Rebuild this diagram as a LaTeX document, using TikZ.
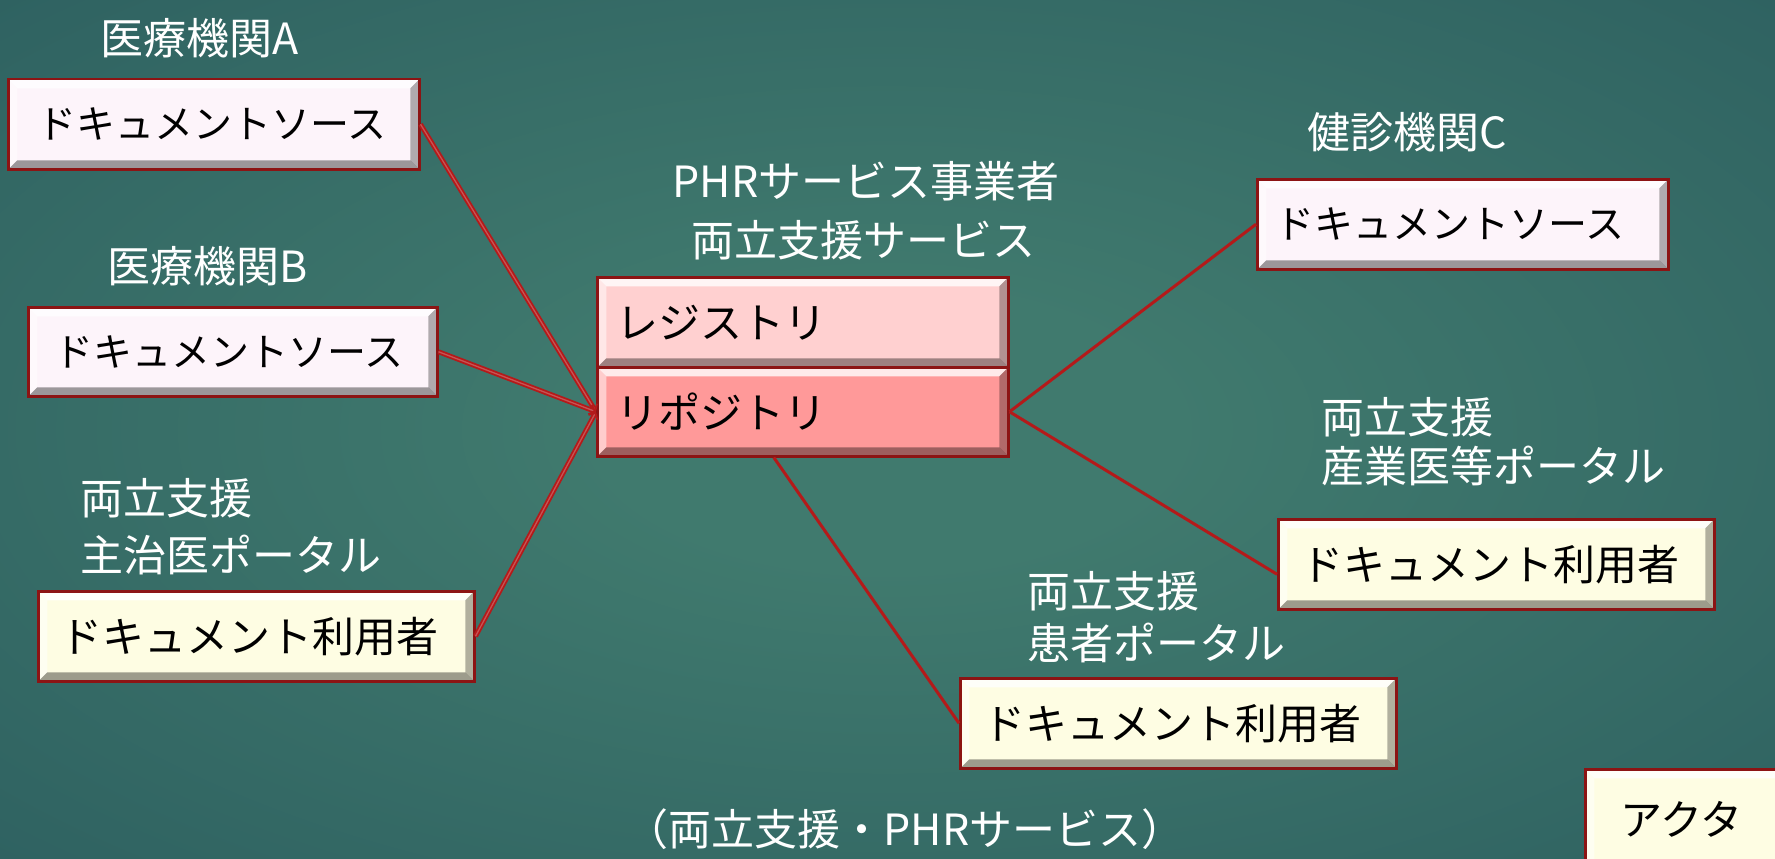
\documentclass[tikz,border=0pt]{standalone}
\usepackage{fontspec}
\setmainfont{Noto Sans CJK JP}
\usetikzlibrary{calc,arrows.meta}
\definecolor{bgc}{RGB}{64,122,110}
\definecolor{bge}{RGB}{24,66,80}
\definecolor{srcfill}{HTML}{FDF4FA}
\definecolor{userfill}{HTML}{FEFDE3}
\definecolor{regfill}{HTML}{FFD0D0}
\definecolor{repfill}{HTML}{FF9999}
\definecolor{bordr}{HTML}{8C1414}
\definecolor{linkc}{HTML}{B41A1A}
\pgfdeclareradialshading{bgshade}{\pgfpoint{0bp}{0bp}}{color(0bp)=(bgc); color(8bp)=(bgc); color(72bp)=(bge)}
\tikzset{
  bevel/.style={path picture={
    \path (path picture bounding box.south west) coordinate (pa)
          (path picture bounding box.north east) coordinate (pb);
    \fill[white,opacity=.8] (pa|-pb) -- (pb) -- ($(pb)+(-9pt,-9pt)$) -- ($(pa|-pb)+(9pt,-9pt)$) -- cycle;
    \fill[white,opacity=.5] (pa|-pb) -- (pa) -- ($(pa)+(9pt,9pt)$) -- ($(pa|-pb)+(9pt,-9pt)$) -- cycle;
    \fill[black,opacity=.38] (pa) -- (pb|-pa) -- ($(pb|-pa)+(-9pt,9pt)$) -- ($(pa)+(9pt,9pt)$) -- cycle;
    \fill[black,opacity=.3] (pb) -- (pb|-pa) -- ($(pb|-pa)+(-9pt,9pt)$) -- ($(pb)+(-9pt,-9pt)$) -- cycle;
  }},
  boxbase/.style={draw=bordr, line width=2.5pt, bevel, anchor=north west, align=left,
    inner ysep=0pt, text=black},
  srcbox/.style={boxbase, fill=srcfill, font=\fontsize{39}{46}\selectfont},
  userbox/.style={boxbase, fill=userfill, font=\fontsize{42}{50}\selectfont},
  regbox/.style={boxbase, fill=regfill, font=\fontsize{42}{50}\selectfont},
  repbox/.style={boxbase, fill=repfill, font=\fontsize{42}{50}\selectfont},
  lbl/.style={text=white, inner sep=0pt, font=\fontsize{43}{50}\selectfont},
  linkR/.style={draw=linkc, line width=3pt},
  linkL/.style={draw=linkc, line width=1.8pt, double=linkc!75!white, double distance=1.3pt,
    -{Straight Barb[length=5pt,width=10pt]}},
}
\begin{document}
\begin{tikzpicture}[x=1pt,y=-1pt]
\useasboundingbox (0,0) rectangle (1775,859);
\clip (0,0) rectangle (1775,859);
\shade[shading=bgshade] (0,0) rectangle (1775,859);

% boxes
\node[srcbox, text width=353pt, inner xsep=29pt, minimum height=90pt] (srcA) at (7,78) {ドキュメントソース};
\node[srcbox, text width=357pt, inner xsep=26pt, minimum height=89pt] (srcB) at (27,306) {ドキュメントソース};
\node[userbox, text width=392pt, inner xsep=22pt, minimum height=90pt] (lu) at (37,590) {ドキュメント利用者};
\node[srcbox, text width=375pt, inner xsep=18pt, minimum height=90pt] (srcC) at (1256,178) {ドキュメントソース};
\node[userbox, text width=390pt, inner xsep=23pt, minimum height=90pt] (ru) at (1277,518) {ドキュメント利用者};
\node[userbox, text width=390pt, inner xsep=23pt, minimum height=90pt] (pu) at (959,677) {ドキュメント利用者};
\node[regbox, text width=373pt, inner xsep=19pt, minimum height=90pt] (reg) at (596,276) {レジストリ};
\node[repbox, text width=373pt, inner xsep=19pt, minimum height=89pt] (rep) at (596,366) {リポジトリ};
\node[userbox, text width=130pt, inner xsep=35pt, minimum height=100pt] (actor) at (1584,768) {アクタ};

% labels
\node[lbl, anchor=west] (lA) at (100,38) {医療機関A};
\node[lbl, anchor=west] (lB) at (107,266) {医療機関B};
\node[lbl, anchor=west] (lLU1) at (80,498) {両立支援};
\node[lbl, anchor=west] (lLU2) at (80,555) {主治医ポータル};
\node[lbl, anchor=west] (lC) at (1307,132) {健診機関C};
\node[lbl, anchor=west] (lRU1) at (1321,417) {両立支援};
\node[lbl, anchor=west] (lRU2) at (1321,466) {産業医等ポータル};
\node[lbl, anchor=west] (lPU1) at (1027,591) {両立支援};
\node[lbl, anchor=west] (lPU2) at (1027,643) {患者ポータル};
\node[lbl] (phr1) at (866,181) {PHRサービス事業者};
\node[lbl] (phr2) at (863,240) {両立支援サービス};
\node[lbl] (cap) at (905,829) {（両立支援・PHRサービス）};

% connectors
\draw[linkL] (srcA.east) -- (rep.west);
\draw[linkL] (srcB.east) -- (rep.west);
\draw[linkL] (lu.east) -- (rep.west);
\draw[linkR] (rep.east) -- (srcC.west);
\draw[linkR] (rep.east) -- ($(ru.west)+(0,10)$);
\draw[linkR] ($(rep.south west)!0.43!(rep.south east)$) -- (pu.west);
\end{tikzpicture}
\end{document}
